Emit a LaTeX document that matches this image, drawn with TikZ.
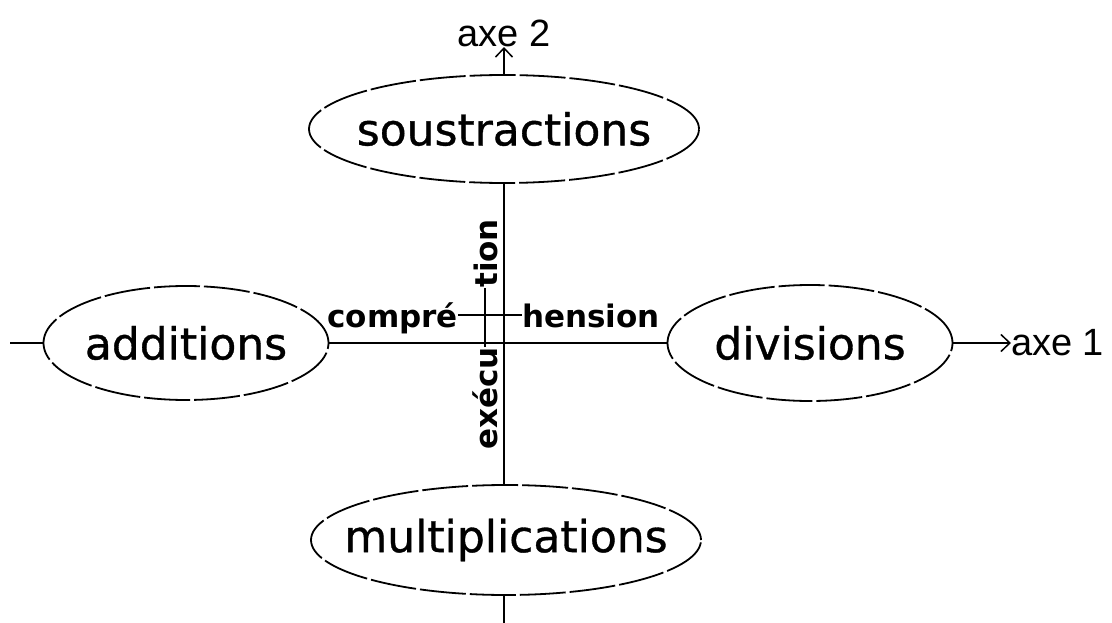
\documentclass[tikz,border=0pt]{standalone}
\usepackage{fontspec}
\setmainfont{DejaVu Sans}
\newfontfamily\operfont[FakeBold=0.8]{DejaVu Sans}
\newfontfamily\axisfont{Liberation Sans}
\usetikzlibrary{shapes.geometric,arrows.meta}

\tikzset{
  oper/.style={ellipse,draw=black,line width=1.8pt,dash pattern=on 46pt off 4pt,
    inner xsep=-30pt,inner ysep=0pt,font=\operfont\fontsize{44}{44}\selectfont},
  halfword/.style={inner sep=0pt,text height=24pt,text depth=0pt,
    font=\bfseries\fontsize{31}{31}\selectfont},
  axislabel/.style={inner sep=0pt,font=\axisfont\fontsize{38}{38}\selectfont},
  axisline/.style={draw=black,line width=1.8pt},
  axisarrow/.style={draw=black,line width=1.5pt,-{Straight Barb[length=9pt,width=17pt]}}
}

\begin{document}
\begin{tikzpicture}[x=1pt,y=-1pt]
  \useasboundingbox (0,0) rectangle (1112,623);
  % the four operations
  \begin{scope}[every node/.style={oper}]
    \node[minimum width=390pt,minimum height=108pt] (sous) at (504,129) {soustractions};
    \node[minimum width=285pt,minimum height=114pt] (add) at (186,343) {additions};
    \node[minimum width=285pt,minimum height=116pt] (div) at (810,343) {divisions};
    \node[minimum width=390pt,minimum height=110pt] (mult) at (506,540) {multiplications};
  \end{scope}
  % axis names
  \node[axislabel,anchor=west] (axe1) at (1011,343) {axe 1};
  \node[axislabel,anchor=south] (axe2) at (504,47) {axe 2};
  \coordinate (stubW) at (10,343);
  \coordinate (stubS) at (504,623);
  % the two axes
  \draw[axisline] (stubW) -- (add.west);
  \draw[axisline] (add.east) -- (div.west);
  \draw[axisline] (sous.south) -- (mult.north -| sous.south);
  \draw[axisline] (mult.south -| stubS) -- (stubS);
  \draw[axisarrow] (div.east) -- (axe1.west);
  \draw[axisarrow] (sous.north) -- (axe2.south);
  % split words along the axes
  \begin{scope}[every node/.style={halfword}]
    \node[anchor=east] (compre) at (458,315) {compré};
    \node[anchor=west] (hension) at (522,315) {hension};
    \node[rotate=90,anchor=east] (execu) at (485,347) {exécu};
    \node[rotate=90,anchor=west] (tion) at (485,288) {tion};
  \end{scope}
  \begin{scope}[every edge/.style={draw=black,line width=1.4pt}]
    \draw (compre) edge (hension);
    \draw (execu) edge (tion);
  \end{scope}
\end{tikzpicture}
\end{document}
